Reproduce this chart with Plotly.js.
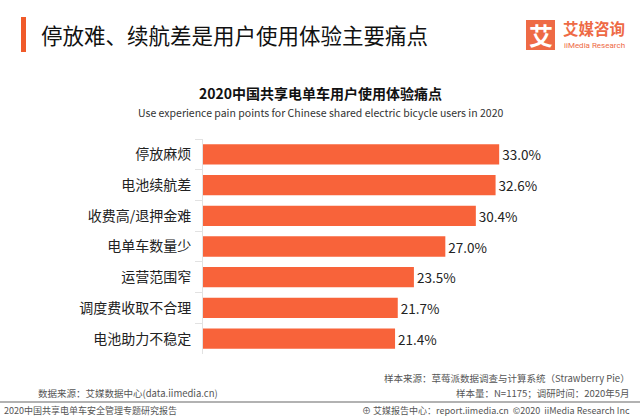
<!DOCTYPE html>
<html>
<head>
<meta charset="utf-8">
<script src="https://cdn.plot.ly/plotly-3.0.1.min.js"></script>
<style>html,body{margin:0;padding:0;background:#fff;}#chart{width:640px;height:416px;}</style>
</head>
<body>
<div id="chart"></div>
<script>
const categories = ["停放麻烦", "电池续航差", "收费高/退押金难", "电单车数量少", "运营范围窄", "调度费收取不合理", "电池助力不稳定"];
const values = [33.0, 32.6, 30.4, 27.0, 23.5, 21.7, 21.4];

const orange = "#F8633A";
const cjk = "Noto Sans CJK SC, sans-serif";

const trace = {
  type: "bar",
  orientation: "h",
  y: categories,
  x: values,
  marker: {color: orange},
  text: values.map(v => v.toFixed(1) + "%"),
  textposition: "outside",
  textfont: {family: cjk, size: 13.5, color: "#222"},
  cliponaxis: false,
  hoverinfo: "none"
};

const W = 359, H = 215, L = 203, B = 354;
const px = x => (x - L) / W;
const py = y => (B - y) / H;

const layout = {
  width: 640, height: 416,
  margin: {l: 203, r: 78, t: 139, b: 62},
  paper_bgcolor: "#fff", plot_bgcolor: "#fff",
  bargap: 0.34,
  showlegend: false,
  font: {family: cjk},
  xaxis: {range: [0, 40], visible: false, fixedrange: true},
  yaxis: {
    autorange: "reversed",
    showline: true, linecolor: "#e2e2e2", linewidth: 1,
    ticks: "outside", tickson: "boundaries", ticklen: 7, tickcolor: "#e2e2e2",
    tickfont: {family: cjk, size: 14, color: "#222"},
    ticklabelstandoff: 8,
    showgrid: false, zeroline: false
  },
  shapes: [
    {type: "rect", xref: "paper", yref: "paper", x0: px(21), x1: px(26), y0: py(17), y1: py(52),
     fillcolor: "#F05A2A", line: {width: 0}},
    {type: "rect", xref: "paper", yref: "paper", x0: px(526), x1: px(555), y0: py(20), y1: py(50),
     fillcolor: "#EE6A45", line: {width: 0}},
    {type: "line", xref: "paper", yref: "paper", x0: px(0), x1: px(640), y0: py(402), y1: py(402),
     line: {color: "#999", width: 1.5}}
  ],
  annotations: [
    {text: "停放难、续航差是用户使用体验主要痛点", xref: "paper", yref: "paper", x: px(39), y: py(34),
     xanchor: "left", yanchor: "middle", showarrow: false, font: {family: cjk, size: 21.5, color: "#111"}},
    {text: "<b>艾</b>", xref: "paper", yref: "paper", x: px(540.5), y: py(35),
     xanchor: "center", yanchor: "middle", showarrow: false, font: {family: cjk, size: 24, color: "#fff"}},
    {text: "<b>艾媒咨询</b>", xref: "paper", yref: "paper", x: px(561), y: py(28),
     xanchor: "left", yanchor: "middle", showarrow: false, font: {family: cjk, size: 15.5, color: "#EE6A45"}},
    {text: "iiMedia Research", xref: "paper", yref: "paper", x: px(562), y: py(45.5),
     xanchor: "left", yanchor: "middle", showarrow: false, font: {family: "Roboto, sans-serif", size: 8, color: "#EE6A45"}},
    {text: "<b>2020中国共享电单车用户使用体验痛点</b>", xref: "paper", yref: "paper", x: px(320), y: py(93),
     xanchor: "center", yanchor: "middle", showarrow: false, font: {family: cjk, size: 14, color: "#111"}},
    {text: "Use experience pain points for Chinese shared electric bicycle users in 2020", xref: "paper", yref: "paper", x: px(320), y: py(113),
     xanchor: "center", yanchor: "middle", showarrow: false, font: {family: cjk, size: 10.5, color: "#333"}},
    {text: "数据来源：艾媒数据中心(data.iimedia.cn)", xref: "paper", yref: "paper", x: px(36), y: py(393),
     xanchor: "left", yanchor: "middle", showarrow: false, font: {family: cjk, size: 9.5, color: "#555"}},
    {text: "样本来源：草莓派数据调查与计算系统（Strawberry Pie）", xref: "paper", yref: "paper", x: px(632), y: py(378),
     xanchor: "right", yanchor: "middle", showarrow: false, font: {family: cjk, size: 9.5, color: "#555"}},
    {text: "样本量：N=1175；调研时间：2020年5月", xref: "paper", yref: "paper", x: px(632), y: py(393),
     xanchor: "right", yanchor: "middle", showarrow: false, font: {family: cjk, size: 9.5, color: "#555"}},
    {text: "2020中国共享电单车安全管理专题研究报告", xref: "paper", yref: "paper", x: px(2), y: py(410),
     xanchor: "left", yanchor: "middle", showarrow: false, font: {family: cjk, size: 9, color: "#555"}},
    {text: "⊕ 艾媒报告中心：report.iimedia.cn  ©2020  iiMedia Research Inc", xref: "paper", yref: "paper", x: px(632), y: py(410),
     xanchor: "right", yanchor: "middle", showarrow: false, font: {family: cjk, size: 9, color: "#555"}}
  ]
};

Plotly.newPlot("chart", [trace], layout, {displayModeBar: false, staticPlot: true});
</script>
</body>
</html>
